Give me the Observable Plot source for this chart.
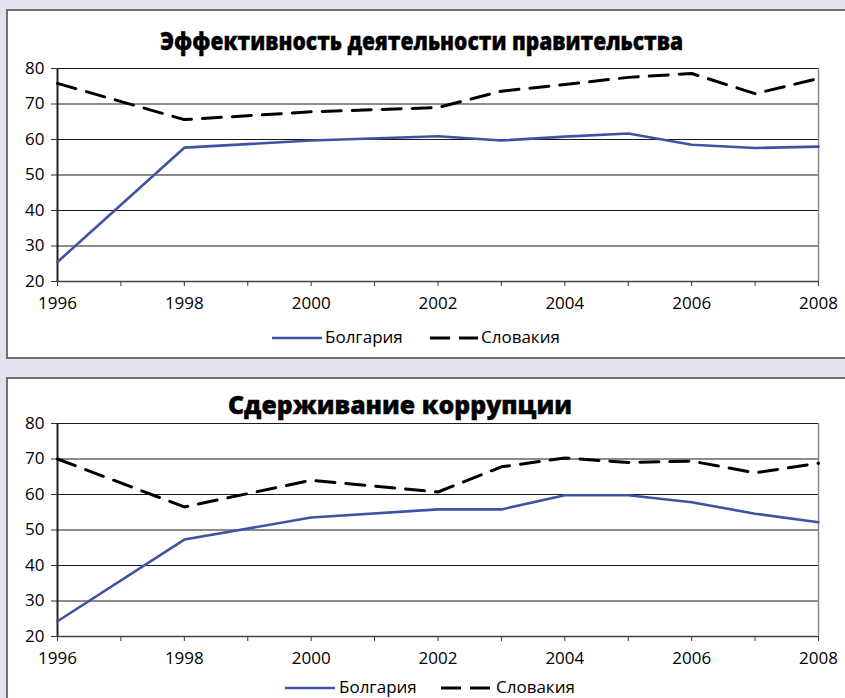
<!DOCTYPE html>
<html>
<head>
<meta charset="utf-8">
<script src="https://cdn.jsdelivr.net/npm/d3@7"></script>
<script src="https://cdn.jsdelivr.net/npm/@observablehq/plot@0.6"></script>
<style>
  html, body { margin: 0; padding: 0; }
  body { background: #e1e4f0; font-family: "Open Sans", sans-serif; }
  #page { position: relative; width: 845px; height: 698px; overflow: hidden; }
  .panel { position: absolute; left: 6px; width: 860px; background: #fff; border: 2px solid #707070; box-sizing: border-box; }
  .title { position: absolute; white-space: nowrap; font-weight: 800; font-size: 24px; line-height: 24px; color: #000; transform-origin: 0 50%; -webkit-text-stroke: 0.4px #000; }
  .plot { position: absolute; left: 0; }
  .legend { position: absolute; height: 20px; font-size: 17px; line-height: 20px; color: #000; }
  .legend svg { position: absolute; top: 0; }
  .legend span { position: absolute; top: -1px; white-space: nowrap; }
</style>
</head>
<body>
<div id="page"></div>
<script>
// ---------- data ----------
const years = [1996, 1998, 2000, 2002, 2003, 2004, 2005, 2006, 2007, 2008];
const tickYears = [1996, 1997, 1998, 1999, 2000, 2001, 2002, 2003, 2004, 2005, 2006, 2007, 2008];
const yTicks = [20, 30, 40, 50, 60, 70, 80];

const seriesNames = ["Болгария", "Словакия"];
const titles = ["Эффективность деятельности правительства", "Сдерживание коррупции"];

// Government effectiveness
const geBulgaria = [25.5, 57.7, 59.7, 60.9, 59.7, 60.8, 61.7, 58.5, 57.6, 58.0];
const geSlovakia = [75.8, 65.6, 67.8, 69.0, 73.6, 75.5, 77.5, 78.6, 72.9, 77.2];
// Control of corruption
const ccBulgaria = [24.3, 47.3, 53.5, 55.8, 55.8, 59.8, 59.8, 57.8, 54.6, 52.2];
const ccSlovakia = [70.0, 56.5, 64.0, 60.7, 67.8, 70.3, 69.0, 69.4, 66.1, 68.8];

// ---------- layout ----------
const page = document.getElementById("page");
const BLUE = "#3f52a3";
const DASH = "19,11";

function panel(top, height) {
  const p = document.createElement("div");
  p.className = "panel";
  p.style.top = top + "px";
  p.style.height = height + "px";
  page.appendChild(p);
}

function title(text, left, width, centerY) {
  const s = document.createElement("span");
  s.className = "title";
  s.textContent = text;
  s.style.left = left + "px";
  s.style.top = (centerY - 12) + "px";
  s.dataset.target = width;
  page.appendChild(s);
}

function chart(bul, slo, top) {
  const data = years.map((y, i) => ({ year: y, bul: bul[i], slo: slo[i] }));
  const svg = Plot.plot({
    width: 845, height: 258,
    marginTop: 10, marginBottom: 35, marginLeft: 57, marginRight: 27,
    x: { domain: [1996, 2008] },
    y: { domain: [20, 80] },
    style: { fontFamily: '"Open Sans", sans-serif', fontSize: "17px", color: "#000", background: "transparent", overflow: "visible" },
    marks: [
      Plot.gridY(yTicks, { stroke: "#1a1a1a", strokeOpacity: 1, strokeWidth: 1 }),
      Plot.ruleX([2008], { stroke: "#8a8a8a", strokeWidth: 1.5 }),
      Plot.axisY(yTicks, { tickSize: 6, tickPadding: 7, label: null, stroke: "#333" }),
      Plot.axisX(tickYears, { tickSize: 5, tickPadding: 10, label: null, stroke: "#333",
        tickFormat: d => (d % 2 === 0 ? String(d) : "") }),
      Plot.ruleY([20], { stroke: "#444", strokeWidth: 1.5 }),
      Plot.ruleX([1996], { stroke: "#222", strokeWidth: 2 }),
      Plot.lineY(data, { x: "year", y: "bul", stroke: BLUE, strokeWidth: 2.6 }),
      Plot.lineY(data, { x: "year", y: "slo", stroke: "#000", strokeWidth: 3, strokeDasharray: DASH })
    ]
  });
  svg.classList.add("plot");
  svg.style.top = top + "px";
  page.appendChild(svg);
}

function legend(centerY, x0, textX0, x1, textX1, sw0, sw1) {
  const L = document.createElement("div");
  L.className = "legend";
  L.style.left = "0px";
  L.style.top = (centerY - 10) + "px";
  L.style.width = "845px";
  const ns = "http://www.w3.org/2000/svg";
  function sw(x, w, dashed) {
    const s = document.createElementNS(ns, "svg");
    s.setAttribute("width", w); s.setAttribute("height", 20);
    s.style.left = x + "px";
    const l = document.createElementNS(ns, "line");
    l.setAttribute("x1", 0); l.setAttribute("x2", w);
    l.setAttribute("y1", 10); l.setAttribute("y2", 10);
    l.setAttribute("stroke", dashed ? "#000" : BLUE);
    l.setAttribute("stroke-width", dashed ? 3 : 2.6);
    if (dashed) l.setAttribute("stroke-dasharray", "20,9");
    s.appendChild(l);
    L.appendChild(s);
  }
  function tx(x, t) {
    const s = document.createElement("span");
    s.style.left = x + "px";
    s.textContent = t;
    L.appendChild(s);
  }
  sw(x0, sw0, false); tx(textX0, seriesNames[0]);
  sw(x1, sw1, true); tx(textX1, seriesNames[1]);
  page.appendChild(L);
}

panel(9, 350);
panel(377, 340);

title(titles[0], 160, 523, 41);
title(titles[1], 228, 344, 405);

chart(geBulgaria, geSlovakia, 58);
chart(ccBulgaria, ccSlovakia, 413);

legend(338, 272, 325, 430, 481, 50, 48);
legend(688, 285, 339, 441, 496, 50, 51);

function fitTitles() {
  document.querySelectorAll(".title").forEach(s => {
    s.style.transform = "none";
    const w = s.getBoundingClientRect().width;
    const t = +s.dataset.target;
    if (w > 0) s.style.transform = `scaleX(${t / w})`;
  });
}
fitTitles();
if (document.fonts && document.fonts.ready) document.fonts.ready.then(fitTitles);
</script>
</body>
</html>
